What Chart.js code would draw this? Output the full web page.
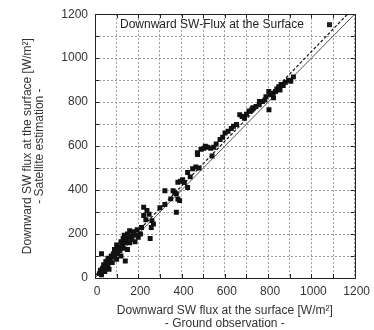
<!DOCTYPE html>
<html>
<head>
<meta charset="utf-8">
<title>Downward SW-Flux</title>
<script src="https://cdn.jsdelivr.net/npm/chart.js@4"></script>
<style>
    body { margin: 0; background: #fff; }
    #wrap { width: 374px; height: 330px; }
</style>
</head>
<body>
<div id="wrap"><canvas id="fluxChart" width="374" height="330"></canvas></div>
<script>
"use strict";

// Markpunkter: marken (x) mot satellit (y), W/m2
const groundObs = [
    20, 25, 30, 35, 30, 40, 45, 50, 55, 60, 60, 65, 70, 75, 80, 85, 90, 90, 95, 100,
    100, 105, 110, 115, 120, 120, 125, 130, 130, 135, 140, 140, 145, 150, 150, 155, 160, 160, 165, 170,
    175, 180, 185, 190, 195, 200,
    210, 215, 225, 240, 225, 235, 250, 263, 270, 255, 260, 300, 323, 323, 350, 361, 368, 376, 383, 391,
    376, 383, 395, 405, 413, 428, 428, 440,
    451, 466, 481, 474, 473, 490, 503, 520, 535, 549, 541, 510, 560, 578, 590, 601, 615, 630, 640, 654,
    669, 680, 691, 700, 712, 725, 730,
    714, 729, 744, 759, 760, 774, 785, 790, 803, 804, 810, 820, 825, 834, 840, 849, 855, 860, 870, 880,
    895, 905, 917
];
const satEst = [
    20, 35, 15, 45, 110, 60, 30, 75, 50, 90, 60, 40, 80, 100, 70, 110, 95, 130, 120, 85,
    150, 110, 140, 125, 165, 100, 150, 180, 135, 195, 160, 77, 175, 130, 200, 185, 160, 215, 190, 175,
    200, 210, 165, 195, 220, 185,
    200, 230, 322, 307, 284, 265, 290, 261, 246, 180, 230, 320, 397, 334, 360, 397, 390, 383, 359, 352,
    299, 436, 440, 447, 434, 412, 480, 460,
    497, 505, 500, 562, 570, 585, 590, 595, 590, 595, 555, 600, 610, 630, 640, 660, 668, 680, 690, 698,
    743, 735, 727, 745, 760, 765, 775,
    758, 770, 780, 788, 803, 803, 810, 825, 848, 765, 833, 840, 820, 848, 860, 870, 855, 880, 875, 890,
    900, 895, 915
];

// Linjer: 1:1 och regressionslinje
const oneToOneX = [0, 1200];
const oneToOneY = [0, 1200];
const fitX = [0, 1167];
const fitY = [10, 1200];

// Axlar
const axisMin = 0;
const axisMax = 1200;
const tickStep = 100;
const labelStep = 200;

const seriesLabel = "Downward SW-Flux at the Surface";
const xTitle = ["Downward SW flux at the surface [W/m\u00B2]", "- Ground observation -"];
const yTitle = ["Downward SW flux at the surface [W/m\u00B2]", "- Satellite estimation -"];

function toPoints(xs, ys) {
    return xs.map((x, i) => ({ x: x, y: ys[i] }));
}

const fontFamily = "'Liberation Sans', Arial, Helvetica, sans-serif";

// Ram, inåtriktade tickmarkeringar och nyckel (gnuplot-stil)
const framePlugin = {
    id: 'frame',
    afterDraw(chart) {
        const ctx = chart.ctx;
        const a = chart.chartArea;
        const xs = chart.scales.x;
        const ys = chart.scales.y;
        ctx.save();
        ctx.strokeStyle = '#222';
        ctx.lineWidth = 1;
        for (let v = axisMin; v <= axisMax; v += tickStep) {
            const px = Math.round(xs.getPixelForValue(v)) + 0.5;
            const py = Math.round(ys.getPixelForValue(v)) + 0.5;
            ctx.beginPath();
            ctx.moveTo(px, a.bottom); ctx.lineTo(px, a.bottom - 4);
            ctx.moveTo(px, a.top); ctx.lineTo(px, a.top + 4);
            ctx.moveTo(a.left, py); ctx.lineTo(a.left + 4, py);
            ctx.moveTo(a.right, py); ctx.lineTo(a.right - 4, py);
            ctx.stroke();
        }
        ctx.strokeRect(Math.round(a.left) + 0.5, Math.round(a.top) + 0.5,
            Math.round(a.right - a.left), Math.round(a.bottom - a.top));

        // Nyckel
        ctx.fillStyle = '#222';
        ctx.font = "12px " + fontFamily;
        ctx.textBaseline = 'middle';
        ctx.textAlign = 'left';
        ctx.fillText(chart.data.datasets[0].label, a.left + 25, a.top + 10);
        ctx.fillRect(a.left + 232, a.top + 8, 5, 5);
        ctx.restore();
    }
};

const ctx = document.getElementById('fluxChart');

new Chart(ctx, {
    type: 'scatter',
    data: {
        datasets: [
            {
                label: seriesLabel,
                data: toPoints(groundObs, satEst),
                pointStyle: 'rect',
                pointRadius: 3.5,
                backgroundColor: '#111',
                borderColor: '#111',
                borderWidth: 0
            },
            {
                label: 'fit',
                type: 'line',
                data: toPoints(fitX, fitY),
                borderColor: '#111',
                borderWidth: 1.2,
                borderDash: [3, 2],
                pointRadius: 0,
                fill: false
            },
            {
                label: '1:1',
                type: 'line',
                data: toPoints(oneToOneX, oneToOneY),
                borderColor: '#555',
                borderWidth: 1,
                pointRadius: 0,
                fill: false
            }
        ]
    },
    options: {
        responsive: false,
        animation: false,
        layout: { padding: { left: 0, top: 12, right: 13, bottom: 0 } },
        plugins: {
            legend: { display: false },
            tooltip: { enabled: false }
        },
        scales: {
            x: {
                type: 'linear',
                min: axisMin,
                max: axisMax,
                afterFit: (scale) => { scale.height = 52; },
                border: { display: false, dash: [2, 2] },
                grid: { color: '#9a9a9a', lineWidth: 1, drawTicks: false },
                ticks: {
                    stepSize: tickStep,
                    autoSkip: false,
                    maxRotation: 0,
                    padding: 6,
                    labelOffset: 2,
                    color: '#333',
                    font: { family: fontFamily, size: 12 },
                    callback: (v) => (v % labelStep === 0 ? String(v) : '')
                },
                title: {
                    display: true,
                    text: xTitle,
                    color: '#333',
                    font: { family: fontFamily, size: 12, lineHeight: 1.08 },
                    padding: { top: 0, bottom: 0 }
                }
            },
            y: {
                type: 'linear',
                min: axisMin,
                max: axisMax,
                afterFit: (scale) => { scale.width = 95; },
                border: { display: false, dash: [2, 2] },
                grid: { color: '#9a9a9a', lineWidth: 1, drawTicks: false },
                ticks: {
                    stepSize: tickStep,
                    autoSkip: false,
                    padding: 7,
                    color: '#333',
                    font: { family: fontFamily, size: 12 },
                    callback: (v) => (v % labelStep === 0 ? String(v) : '')
                },
                title: {
                    display: true,
                    text: yTitle,
                    color: '#333',
                    font: { family: fontFamily, size: 12, lineHeight: 1.0 },
                    padding: { top: 22, bottom: 0 }
                }
            }
        }
    },
    plugins: [framePlugin]
});
</script>
</body>
</html>
